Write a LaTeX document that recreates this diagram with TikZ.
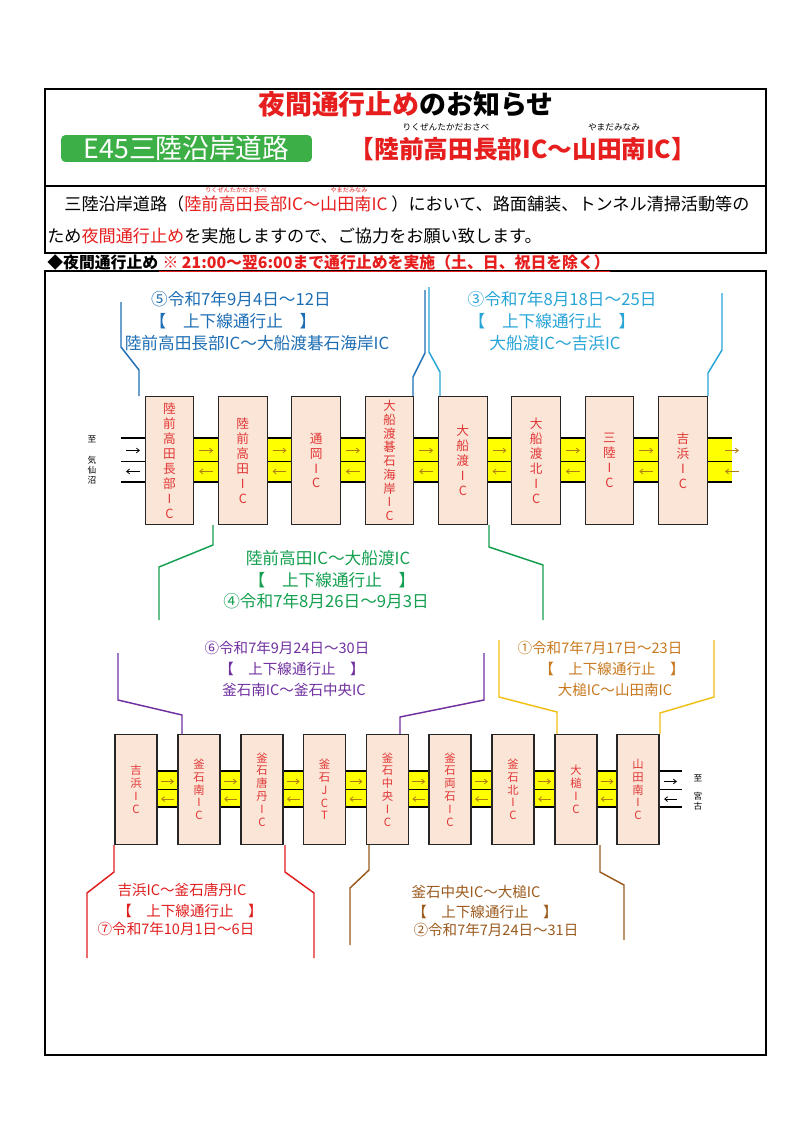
\documentclass[tikz,border=0pt]{standalone}
\usepackage{fontspec}
\setmainfont{Noto Sans CJK JP}
\usetikzlibrary{calc,arrows.meta}
\definecolor{icred}{RGB}{225,55,55}
\definecolor{icfill}{RGB}{251,229,214}
\definecolor{roady}{RGB}{255,255,0}
\definecolor{arrc}{RGB}{175,125,20}
\definecolor{cBlueD}{RGB}{30,110,180}
\definecolor{cBlueL}{RGB}{40,165,215}
\definecolor{cGreen}{RGB}{20,160,80}
\definecolor{cPurple}{RGB}{112,48,160}
\definecolor{cGold}{RGB}{240,192,20}
\definecolor{cOrange}{RGB}{200,120,30}
\definecolor{cRed}{RGB}{225,30,30}
\definecolor{cBrown}{RGB}{155,90,30}
\definecolor{hgreen}{RGB}{60,175,70}
\definecolor{tred}{RGB}{230,30,30}
\tikzset{
  icbox/.style={draw=black!85, fill=icfill, line width=0.8pt, text=icred, align=center, inner sep=0pt},
  ictop/.style={icbox, minimum width=36.5pt, minimum height=96.5pt, font=\fontsize{9.5}{11.2}\selectfont},
  icbot/.style={icbox, minimum width=31.5pt, minimum height=83pt, font=\fontsize{8.5}{9.6}\selectfont},
  lanearr/.style={line width=0.6pt, arrc, -{Straight Barb[length=2.2pt,width=3.6pt]}},
  lanearrk/.style={line width=0.6pt, black, -{Straight Barb[length=2.2pt,width=3.6pt]}},
  edge/.style={line width=1.6pt, black},
  midl/.style={line width=0.6pt, black},
  brk/.style={line width=1.1pt},
  btxt/.style={inner sep=0pt, font=\fontsize{12.5}{14}\selectfont},
  bbtxt/.style={inner sep=0pt, font=\fontsize{10.9}{12}\selectfont},
  plain/.style={inner sep=0pt}
}
\begin{document}
\begin{tikzpicture}[x=0.75pt,y=-0.75pt]
\useasboundingbox (0,0) rectangle (794,1123);
\fill[white] (0,0) rectangle (794,1123);
% frames
\draw[line width=1.3pt] (45,89) rectangle (766,186);
\draw[line width=0.8pt] (45,186) rectangle (766,253);
\draw[line width=1.3pt] (45,271) rectangle (766,1055);
% header
\node[plain, font=\fontsize{20.2}{24}\bfseries\selectfont] (title) at (406,104) {\textcolor{tred}{夜間通行止め}のお知らせ};
\node[fill=hgreen, rounded corners=3pt, minimum width=188pt, minimum height=20pt, inner sep=0pt, text=white, font=\fontsize{20}{22}\selectfont] (e45) at (186.5,148.5) {E45三陸沿岸道路};
\node[plain, text=tred, font=\fontsize{18.5}{22}\bfseries\selectfont] (sub) at (523,149) {【陸前高田長部IC～山田南IC】};
\node[plain, font=\fontsize{6.5}{7}\selectfont] (rb1) at (446,127) {りくぜんたかだおさべ};
\node[plain, font=\fontsize{6.5}{7}\selectfont] (rb2) at (614,127) {やまだみなみ};
% intro
\node[plain, anchor=west, font=\fontsize{12.85}{15}\selectfont] (in1) at (47,204) {　三陸沿岸道路（\textcolor{tred}{陸前高田長部IC～山田南IC}\ ）において、路面舗装、トンネル清掃活動等の};
\node[plain, text=tred, font=\fontsize{4.6}{5}\selectfont] (rb3) at (236,190) {りくぜんたかだおさべ};
\node[plain, text=tred, font=\fontsize{4.6}{5}\selectfont] (rb4) at (349,190) {やまだみなみ};
\node[plain, anchor=west, font=\fontsize{12.85}{15}\selectfont] (in2) at (47,236) {ため\textcolor{tred}{夜間通行止め}を実施しますので、ご協力をお願い致します。};
\node[plain, anchor=west, font=\fontsize{11.9}{14}\bfseries\selectfont] (l3a) at (47,262) {◆夜間通行止め};
\node[plain, anchor=west, text=tred, font=\fontsize{11.9}{14}\bfseries\selectfont] (l3b) at (l3a.east) {\ ※\ 21:00～翌6:00まで通行止めを実施（土、日、祝日を除く）};
\draw[line width=0.7pt] ([yshift=-1.2pt]l3a.south west) -- ([yshift=-1.2pt]l3a.south east);
\draw[line width=0.7pt, tred] ([yshift=-1.2pt]l3b.south west) -- ([yshift=-1.2pt]l3b.south east);

% ===== top road =====
\fill[roady] (145,438) rectangle (732,482);
\draw[edge] (121,438) -- (732,438);
\draw[edge] (121,482) -- (732,482);
\draw[midl] (121,461) -- (732,461);
\node[ictop] (t1) at (169.5,460.5) {陸\\前\\高\\田\\長\\部\\I\\C};
\node[ictop] (t2) at (242.8,460.5) {陸\\前\\高\\田\\I\\C};
\node[ictop] (t3) at (316.2,460.5) {通\\岡\\I\\C};
\node[ictop, font=\fontsize{9.3}{10.3}\selectfont] (t4) at (389.5,460.5) {大\\船\\渡\\碁\\石\\海\\岸\\I\\C};
\node[ictop] (t5) at (462.8,460.5) {大\\船\\渡\\I\\C};
\node[ictop] (t6) at (536.2,460.5) {大\\船\\渡\\北\\I\\C};
\node[ictop] (t7) at (609.5,460.5) {三\\陸\\I\\C};
\node[ictop] (t8) at (683,460.5) {吉\\浜\\I\\C};
\coordinate (tend) at (756,460.5);
\foreach \a/\b in {t1/t2,t2/t3,t3/t4,t4/t5,t5/t6,t6/t7,t7/t8,t8/tend}{
  \coordinate (m) at ($(\a.east)!0.5!(\b.west)$);
  \draw[lanearr] ([xshift=-5.2pt,yshift=7.5pt]m) -- ([xshift=5.2pt,yshift=7.5pt]m);
  \draw[lanearr] ([xshift=5.2pt,yshift=-8.2pt]m) -- ([xshift=-5.2pt,yshift=-8.2pt]m);
}
\coordinate (tl) at (133,460.5);
\draw[lanearrk] ([xshift=-5.2pt,yshift=7.5pt]tl) -- ([xshift=5.2pt,yshift=7.5pt]tl);
\draw[lanearrk] ([xshift=5.2pt,yshift=-8.2pt]tl) -- ([xshift=-5.2pt,yshift=-8.2pt]tl);
\node[plain, font=\fontsize{6.5}{7}\selectfont] (to1) at (92,439) {至};
\node[plain, align=center, font=\fontsize{6.5}{7.5}\selectfont] (kes) at (92,470) {気\\仙\\沼};

% ===== bottom road =====
\fill[roady] (157,771) rectangle (617,807);
\draw[edge] (157,771) -- (682,771);
\draw[edge] (157,807) -- (682,807);
\draw[midl] (157,789) -- (682,789);
\node[icbot] (b1) at (136,789.5) {吉\\浜\\I\\C};
\node[icbot] (b2) at (199,789.5) {釜\\石\\南\\I\\C};
\node[icbot] (b3) at (262,789.5) {釜\\石\\唐\\丹\\I\\C};
\node[icbot] (b4) at (324.5,789.5) {釜\\石\\J\\C\\T};
\node[icbot] (b5) at (387.5,789.5) {釜\\石\\中\\央\\I\\C};
\node[icbot] (b6) at (450,789.5) {釜\\石\\両\\石\\I\\C};
\node[icbot] (b7) at (513,789.5) {釜\\石\\北\\I\\C};
\node[icbot] (b8) at (576,789.5) {大\\槌\\I\\C};
\node[icbot] (b9) at (638,789.5) {山\\田\\南\\I\\C};
\foreach \a/\b in {b1/b2,b2/b3,b3/b4,b4/b5,b5/b6,b6/b7,b7/b8,b8/b9}{
  \coordinate (m) at ($(\a.east)!0.5!(\b.west)$);
  \draw[lanearr] ([xshift=-4.8pt,yshift=6pt]m) -- ([xshift=4.8pt,yshift=6pt]m);
  \draw[lanearr] ([xshift=4.8pt,yshift=-7.2pt]m) -- ([xshift=-4.8pt,yshift=-7.2pt]m);
}
\coordinate (br) at (670.5,789.5);
\draw[lanearrk] ([xshift=-4.8pt,yshift=6pt]br) -- ([xshift=4.8pt,yshift=6pt]br);
\draw[lanearrk] ([xshift=4.8pt,yshift=-7.2pt]br) -- ([xshift=-4.8pt,yshift=-7.2pt]br);
\node[plain, font=\fontsize{6.5}{7}\selectfont] (to2) at (698,778) {至};
\node[plain, align=center, font=\fontsize{6.5}{7.5}\selectfont] (miy) at (698,801) {宮\\古};

% ===== brackets top =====
\draw[brk, cBlueD] (121,302) -- (121,347) -- (139,370) -- (139,396);
\draw[brk, cBlueD] (425,290) -- (425,353) -- (413,377) -- (413,396);
\draw[brk, cBlueL] (429,287) -- (429,352) -- (440,372) -- (440,396);
\draw[brk, cBlueL] (722,293) -- (722,350) -- (708,373) -- (708,396);
\node[btxt, text=cBlueD] (s5a) at (241,299) {⑤令和7年9月4日～12日};
\node[btxt, text=cBlueD] (s5b) at (233,321) {【　上下線通行止　】};
\node[btxt, text=cBlueD] (s5c) at (257,343) {陸前高田長部IC～大船渡碁石海岸IC};
\node[btxt, text=cBlueL] (s3a) at (562,299) {③令和7年8月18日～25日};
\node[btxt, text=cBlueL] (s3b) at (552,321) {【　上下線通行止　】};
\node[btxt, text=cBlueL] (s3c) at (555,343) {大船渡IC～吉浜IC};
% green
\draw[brk, cGreen] (213,525) -- (213,545) -- (159,567) -- (159,620);
\draw[brk, cGreen] (489,525) -- (489,547) -- (543,565) -- (543,620);
\node[btxt, text=cGreen] (s4a) at (328,558) {陸前高田IC～大船渡IC};
\node[btxt, text=cGreen] (s4b) at (332,580) {【　上下線通行止　】};
\node[btxt, text=cGreen] (s4c) at (326,601) {④令和7年8月26日～9月3日};

% ===== brackets bottom =====
\draw[brk, cPurple] (118,653) -- (118,700) -- (182,715) -- (182,734);
\draw[brk, cPurple] (484,653) -- (484,700) -- (400,717) -- (400,734);
\node[bbtxt, text=cPurple] (s6a) at (287,648) {⑥令和7年9月24日～30日};
\node[bbtxt, text=cPurple] (s6b) at (292,669) {【　上下線通行止　】};
\node[bbtxt, text=cPurple] (s6c) at (294,690) {釜石南IC～釜石中央IC};
\draw[brk, cGold] (499,640) -- (499,697) -- (557,712) -- (557,734);
\draw[brk, cGold] (714,640) -- (714,697) -- (660,713) -- (660,734);
\node[bbtxt, text=cOrange] (s1a) at (600,648) {①令和7年7月17日～23日};
\node[bbtxt, text=cOrange] (s1b) at (612,669) {【　上下線通行止　】};
\node[bbtxt, text=cOrange] (s1c) at (615,690) {大槌IC～山田南IC};
\draw[brk, cRed] (114,845) -- (114,872) -- (87,893) -- (87,958);
\draw[brk, cRed] (285,845) -- (285,872) -- (314,893) -- (314,958);
\node[bbtxt, text=cRed] (s7a) at (182,890) {吉浜IC～釜石唐丹IC};
\node[bbtxt, text=cRed] (s7b) at (190,911) {【　上下線通行止　】};
\node[bbtxt, text=cRed] (s7c) at (176,929) {⑦令和7年10月1日～6日};
\draw[brk, cBrown] (369,845) -- (369,870) -- (350,888) -- (350,945);
\draw[brk, cBrown] (600,845) -- (600,872) -- (624,885) -- (624,940);
\node[bbtxt, text=cBrown] (s2a) at (476,892) {釜石中央IC～大槌IC};
\node[bbtxt, text=cBrown] (s2b) at (485,912) {【　上下線通行止　】};
\node[bbtxt, text=cBrown] (s2c) at (496,930) {②令和7年7月24日～31日};
\end{tikzpicture}
\end{document}
